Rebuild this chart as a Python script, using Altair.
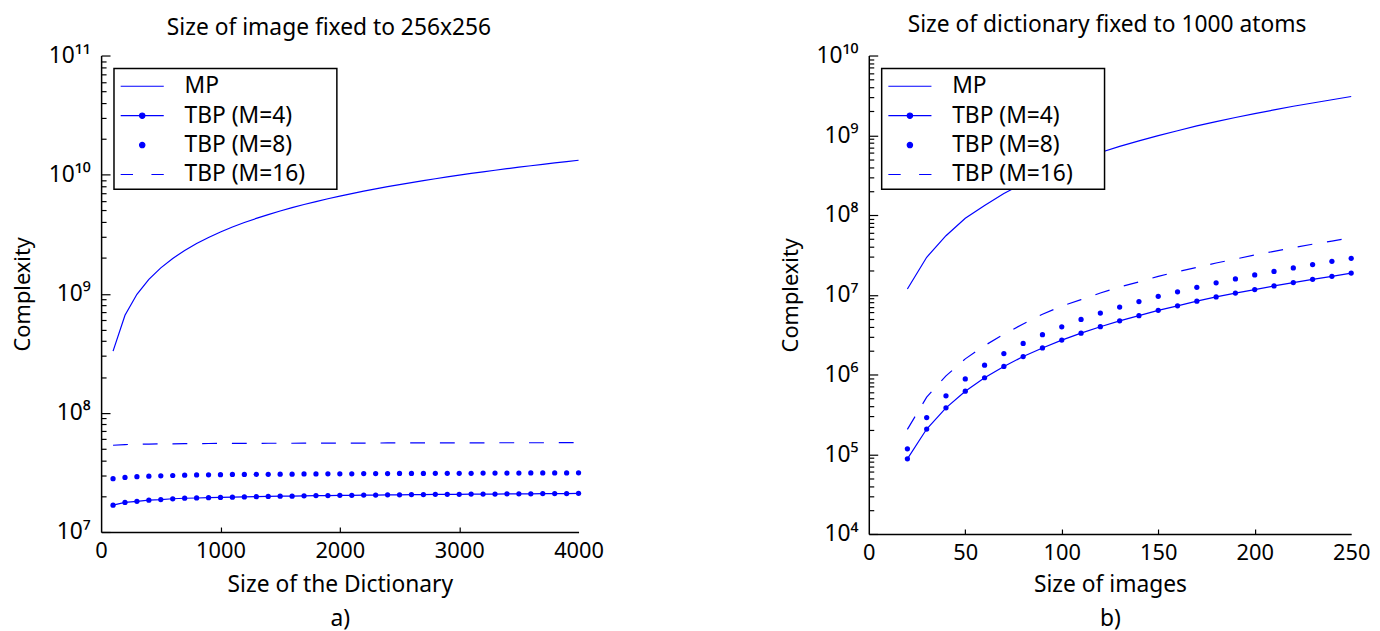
import altair as alt
import pandas as pd

# ---------------- data ----------------
series_names = ["MP", "TBP (M=4)", "TBP (M=8)", "TBP (M=16)"]

# panel a) : size of image fixed to 256x256
dict_sizes = [100, 200, 300, 400, 500, 600, 700, 800, 900, 1000,
              1100, 1200, 1300, 1400, 1500, 1600, 1700, 1800, 1900, 2000,
              2100, 2200, 2300, 2400, 2500, 2600, 2700, 2800, 2900, 3000,
              3100, 3200, 3300, 3400, 3500, 3600, 3700, 3800, 3900, 4000]
mp_a = [3.3e8, 6.6e8, 9.9e8, 1.32e9, 1.65e9, 1.98e9, 2.31e9, 2.64e9, 2.97e9, 3.30e9,
        3.63e9, 3.96e9, 4.29e9, 4.62e9, 4.95e9, 5.28e9, 5.61e9, 5.94e9, 6.27e9, 6.60e9,
        6.93e9, 7.26e9, 7.59e9, 7.92e9, 8.25e9, 8.58e9, 8.91e9, 9.24e9, 9.57e9, 9.90e9,
        1.023e10, 1.056e10, 1.089e10, 1.122e10, 1.155e10, 1.188e10, 1.221e10, 1.254e10, 1.287e10, 1.32e10]
m4_a = [1.68e7, 1.77e7, 1.81e7, 1.85e7, 1.87e7, 1.90e7, 1.92e7, 1.93e7, 1.94e7, 1.95e7,
        1.96e7, 1.97e7, 1.98e7, 1.99e7, 2.00e7, 2.00e7, 2.01e7, 2.02e7, 2.02e7, 2.03e7,
        2.03e7, 2.04e7, 2.04e7, 2.05e7, 2.05e7, 2.06e7, 2.06e7, 2.07e7, 2.07e7, 2.07e7,
        2.08e7, 2.08e7, 2.08e7, 2.09e7, 2.09e7, 2.09e7, 2.10e7, 2.10e7, 2.10e7, 2.11e7]
m8_a = [2.80e7, 2.87e7, 2.91e7, 2.94e7, 2.96e7, 2.98e7, 3.00e7, 3.01e7, 3.02e7, 3.03e7,
        3.04e7, 3.04e7, 3.05e7, 3.05e7, 3.06e7, 3.06e7, 3.07e7, 3.07e7, 3.08e7, 3.08e7,
        3.08e7, 3.09e7, 3.09e7, 3.09e7, 3.10e7, 3.10e7, 3.10e7, 3.11e7, 3.11e7, 3.11e7,
        3.11e7, 3.12e7, 3.12e7, 3.12e7, 3.12e7, 3.13e7, 3.13e7, 3.13e7, 3.13e7, 3.14e7]
m16_a = [5.35e7, 5.42e7, 5.45e7, 5.47e7, 5.49e7, 5.50e7, 5.51e7, 5.52e7, 5.53e7, 5.54e7,
         5.54e7, 5.55e7, 5.55e7, 5.56e7, 5.56e7, 5.56e7, 5.57e7, 5.57e7, 5.57e7, 5.58e7,
         5.58e7, 5.58e7, 5.58e7, 5.59e7, 5.59e7, 5.59e7, 5.59e7, 5.60e7, 5.60e7, 5.60e7,
         5.60e7, 5.60e7, 5.61e7, 5.61e7, 5.61e7, 5.61e7, 5.61e7, 5.62e7, 5.62e7, 5.62e7]

# panel b) : size of dictionary fixed to 1000 atoms
image_sizes = [20, 30, 40, 50, 60, 70, 80, 90, 100, 110, 120, 130,
               140, 150, 160, 170, 180, 190, 200, 210, 220, 230, 240, 250]
mp_b = [1.18e7, 2.95e7, 5.5e7, 9.1e7, 1.32e8, 1.86e8, 2.49e8, 3.23e8, 4.07e8, 5.0e8, 6.08e8, 7.25e8,
        8.5e8, 9.9e8, 1.14e9, 1.31e9, 1.48e9, 1.67e9, 1.87e9, 2.08e9, 2.31e9, 2.54e9, 2.79e9, 3.06e9]
m4_b = [8.75e4, 2.07e5, 3.82e5, 6.17e5, 9.1e5, 1.26e6, 1.68e6, 2.15e6, 2.7e6, 3.3e6, 3.97e6, 4.71e6,
        5.47e6, 6.37e6, 7.26e6, 8.3e6, 9.4e6, 1.05e7, 1.16e7, 1.29e7, 1.42e7, 1.56e7, 1.70e7, 1.87e7]
m8_b = [1.17e5, 2.88e5, 5.4e5, 8.8e5, 1.31e6, 1.83e6, 2.45e6, 3.16e6, 3.96e6, 4.9e6, 5.9e6, 7.0e6,
        8.2e6, 9.55e6, 1.09e7, 1.24e7, 1.41e7, 1.58e7, 1.77e7, 1.96e7, 2.17e7, 2.39e7, 2.63e7, 2.86e7]
m16_b = [2.05e5, 5.2e5, 9.6e5, 1.57e6, 2.3e6, 3.2e6, 4.3e6, 5.7e6, 7.2e6, 8.7e6, 1.05e7, 1.25e7,
         1.45e7, 1.7e7, 1.95e7, 2.2e7, 2.5e7, 2.8e7, 3.15e7, 3.5e7, 3.9e7, 4.3e7, 4.7e7, 5.2e7]

# axis ticks
xlabels_a = [0, 1000, 2000, 3000, 4000]
xinner_a = [1000, 2000, 3000]
ydec_a = [1e7, 1e8, 1e9, 1e10, 1e11]
xlabels_b = [0, 50, 100, 150, 200, 250]
xinner_b = [50, 100, 150, 200]
ydec_b = [1e4, 1e5, 1e6, 1e7, 1e8, 1e9, 1e10]

# ---------------- styling ----------------
BLUE = "#0000ff"
FONT = "Noto Sans"
R = 0.18
W = 1.45
CIRCLE = f"M{-R},0A{R},{R},0,1,0,{R},0A{R},{R},0,1,0,{-R},0Z"
legend_paths = [f"M{-W},0L{W},0", f"M{-W},0L{W},0" + CIRCLE, CIRCLE,
                f"M{-W},0L-0.62,0M0.62,0L{W},0"]
SUP = "['10\u2074','10\u2075','10\u2076','10\u2077','10\u2078','10\u2079','10\u00b9\u2070','10\u00b9\u00b9'][round(log(datum.value)/LN10)-4]"


def minor_ticks(decades):
    out = []
    for d in decades[:-1]:
        for k in range(2, 10):
            out.append(d * k)
    return out


def long_df(xs, mp, m4, m8, m16):
    rows = []
    for name, ys in zip(series_names, [mp, m4, m8, m16]):
        for x, y in zip(xs, ys):
            rows.append({"x": x, "y": y, "series": name})
    return pd.DataFrame(rows)


def panel(df, xdom, xlabels, xinner, ydec, title, xtitle, letter, w, h, title_dx, title_off, xtitle_pad):
    xscale = alt.Scale(domain=xdom, nice=False, zero=False)
    yscale = alt.Scale(type="log", domain=[ydec[0], ydec[-1]], nice=False)
    x_main = alt.X("x:Q", scale=xscale, axis=alt.Axis(
        orient="bottom", values=xlabels, format="d", ticks=False, grid=False, domain=True,
        domainColor="black", domainWidth=1.5, labelFlush=False, labelFontSize=22,
        labelPadding=9, labelColor="black", labelFont=FONT,
        title=[xtitle, letter], titleFontSize=23, titleFontWeight="normal",
        titleLineHeight=34, titlePadding=xtitle_pad, titleColor="black", titleFont=FONT))
    y_main = alt.Y("y:Q", scale=yscale, axis=alt.Axis(
        orient="left", values=ydec, ticks=False, grid=False, domain=True,
        domainColor="black", domainWidth=1.5, labelExpr=SUP, labelFontSize=23,
        labelPadding=11, labelColor="black", labelFont=FONT, labelFlush=False,
        title="Complexity", titleFontSize=22, titleFontWeight="normal",
        titlePadding=14, titleColor="black", titleFont=FONT))
    x_none = alt.X("x:Q", scale=xscale, axis=None)
    y_none = alt.Y("y:Q", scale=yscale, axis=None)

    base = alt.Chart(df)
    mp = base.transform_filter(alt.datum.series == "MP").mark_line(
        color=BLUE, strokeWidth=1.2).encode(x=x_main, y=y_main)
    m4_line = base.transform_filter(alt.datum.series == "TBP (M=4)").mark_line(
        color=BLUE, strokeWidth=1.2).encode(x=x_none, y=y_none)
    m4_pts = base.transform_filter(alt.datum.series == "TBP (M=4)").mark_circle(
        color=BLUE, size=28, opacity=1).encode(x=x_none, y=y_none)
    m8_pts = base.transform_filter(alt.datum.series == "TBP (M=8)").mark_circle(
        color=BLUE, size=28, opacity=1).encode(x=x_none, y=y_none)
    m16_line = base.transform_filter(alt.datum.series == "TBP (M=16)").mark_line(
        color=BLUE, strokeWidth=1.2, strokeDash=[15, 15]).encode(x=x_none, y=y_none)

    tick_major = base.mark_point(opacity=0).encode(
        x=alt.X("x:Q", scale=xscale, axis=alt.Axis(
            orient="bottom", values=xinner, labels=False, domain=False, grid=False,
            ticks=True, tickSize=5, tickWidth=1.2, tickColor="black", offset=-5, title=None)),
        y=alt.Y("y:Q", scale=yscale, axis=alt.Axis(
            orient="left", values=ydec, labels=False, domain=False, grid=False,
            ticks=True, tickSize=9, tickWidth=1.2, tickColor="black", offset=-9, title=None)))
    tick_minor = base.mark_point(opacity=0).encode(
        x=x_none,
        y=alt.Y("y:Q", scale=yscale, axis=alt.Axis(
            orient="left", values=minor_ticks(ydec), labels=False, domain=False, grid=False,
            ticks=True, tickSize=5, tickWidth=1.2, tickColor="black", offset=-5, title=None)))

    leg = base.transform_filter("false").mark_point(
        fill=BLUE, stroke=BLUE, strokeWidth=1.2, opacity=1, filled=True).encode(
        x=x_none, y=y_none,
        shape=alt.Shape("series:N", scale=alt.Scale(domain=series_names, range=legend_paths),
                        legend=alt.Legend(title="MM", titleOrient="right", titleColor="transparent",
                                          titleFontSize=15, titlePadding=5)))

    return alt.layer(mp, m4_line, m4_pts, m8_pts, m16_line, tick_major, tick_minor, leg).resolve_axis(
        x="independent", y="independent").properties(
        width=w, height=h,
        title=alt.TitleParams(title, frame="group", offset=title_off, dx=title_dx,
                              fontSize=23, fontWeight="normal", font=FONT, color="black"))


left = panel(long_df(dict_sizes, mp_a, m4_a, m8_a, m16_a), [0, 4000], xlabels_a, xinner_a, ydec_a,
             "Size of image fixed to 256x256", "Size of the Dictionary", "a)", 482, 481, -11, 5, 12)
right = panel(long_df(image_sizes, mp_b, m4_b, m8_b, m16_b), [0, 250], xlabels_b, xinner_b, ydec_b,
              "Size of dictionary fixed to 1000 atoms", "Size of images", "b)", 487, 483, -3, 8, 10)

chart = alt.hconcat(left, right, spacing=176).resolve_scale(
    shape="independent").resolve_legend(shape="independent").properties(
    padding={"left": 3, "top": 3, "right": 2, "bottom": 0}
).configure_view(strokeWidth=0).configure_legend(
    orient="top-left", offset=13, padding=2, strokeColor="black", strokeWidth=1.5,
    fillColor="white", labelFontSize=23, labelFont=FONT, labelColor="black", labelLimit=400,
    symbolSize=900, symbolOffset=10.5, labelOffset=26.7, rowPadding=1.7, symbolStrokeWidth=1.2
)

chart.save("out.html", embed_options={"renderer": "svg", "actions": False})
